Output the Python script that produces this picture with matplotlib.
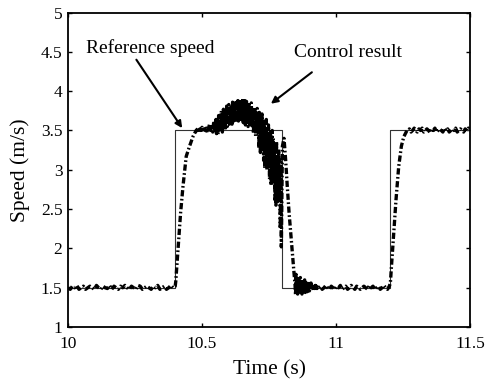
import numpy as np
import matplotlib
matplotlib.use("Agg")
import matplotlib.pyplot as plt

plt.rcParams['font.family'] = ['Liberation Serif', 'DejaVu Serif']
plt.rcParams['lines.scale_dashes'] = False

# Reference speed (step profile)
ref_t = [10.0, 10.4, 10.4, 10.8, 10.8, 11.2, 11.2, 11.5]
ref_v = [1.5, 1.5, 3.5, 3.5, 1.5, 1.5, 3.5, 3.5]

# Control result, read segment by segment
base1_span = (10.0, 10.400)
base1_v = [1.50, 1.48, 1.52, 1.50, 1.53, 1.48, 1.50, 1.52, 1.48, 1.50,
           1.52, 1.50, 1.48, 1.53, 1.50, 1.48, 1.52, 1.50, 1.49, 1.53,
           1.48, 1.52, 1.50, 1.48, 1.52, 1.50, 1.53, 1.50, 1.48, 1.52,
           1.50, 1.48, 1.53, 1.52, 1.48, 1.50, 1.52, 1.50, 1.48, 1.52,
           1.50, 1.53, 1.48, 1.50, 1.52, 1.48, 1.50, 1.53, 1.50, 1.52]

rise1_t = [10.402, 10.406, 10.413, 10.420, 10.429, 10.441, 10.4535, 10.466, 10.478]
rise1_v = [1.58, 1.77, 2.11, 2.45, 2.79, 3.17, 3.30, 3.42, 3.50]

top1_span = (10.480, 10.548)
top1_v = [3.50, 3.53, 3.48, 3.52, 3.50, 3.54, 3.48, 3.52, 3.50, 3.53,
          3.47, 3.52, 3.58, 3.50, 3.55, 3.48, 3.62, 3.52]

noisy_span = (10.550, 10.800)
noisy_v = [3.50, 3.64, 3.46, 3.66, 3.55, 3.45, 3.69, 3.58, 3.48, 3.65,
           3.53, 3.75, 3.58, 3.48, 3.72, 3.77, 3.55, 3.70, 3.50, 3.74,
           3.60, 3.81, 3.55, 3.77, 3.66, 3.83, 3.58, 3.79, 3.62, 3.82,
           3.68, 3.58, 3.86, 3.72, 3.62, 3.87, 3.68, 3.84, 3.60, 3.81,
           3.86, 3.66, 3.88, 3.62, 3.80, 3.89, 3.70, 3.85, 3.64, 3.87,
           3.74, 3.90, 3.60, 3.86, 3.66, 3.88, 3.57, 3.82, 3.87, 3.62,
           3.83, 3.55, 3.79, 3.86, 3.58, 3.81, 3.66, 3.85, 3.54, 3.77,
           3.72, 3.46, 3.79, 3.54, 3.76, 3.43, 3.73, 3.58, 3.78, 3.48,
           3.70, 3.28, 3.73, 3.40, 3.22, 3.66, 3.35, 3.71, 3.25, 3.62,
           3.12, 3.60, 3.02, 3.52, 3.22, 3.64, 3.00, 3.48, 3.15, 3.57,
           3.45, 2.88, 3.36, 3.52, 2.80, 3.25, 3.50, 2.92, 3.40, 2.85,
           3.32, 2.62, 3.15, 2.55, 3.36, 2.78, 3.10, 2.60, 3.26, 2.68,
           3.00, 2.25, 3.10, 2.02, 2.70, 3.30]

fall_t = [10.806, 10.812, 10.818, 10.825, 10.834, 10.840, 10.845]
fall_v = [3.40, 3.13, 2.80, 2.45, 2.07, 1.80, 1.62]

settle_span = (10.847, 10.931)
settle_v = [1.55, 1.41, 1.67, 1.44, 1.62, 1.42, 1.65, 1.47, 1.60, 1.43,
            1.63, 1.46, 1.58, 1.42, 1.61, 1.45, 1.56, 1.48, 1.60, 1.44,
            1.57, 1.47, 1.59, 1.45, 1.55, 1.49, 1.58, 1.46, 1.54, 1.48,
            1.56, 1.47, 1.53, 1.49, 1.55, 1.48, 1.52, 1.49, 1.53, 1.48,
            1.52, 1.49, 1.51]

base2_span = (10.935, 11.199)
base2_v = [1.50, 1.52, 1.48, 1.50, 1.53, 1.50, 1.48, 1.52, 1.50, 1.48,
           1.52, 1.50, 1.53, 1.48, 1.50, 1.52, 1.48, 1.50, 1.53, 1.50,
           1.48, 1.52, 1.50, 1.48, 1.50, 1.52, 1.50, 1.48, 1.53, 1.50,
           1.52, 1.48, 1.50, 1.52, 1.48, 1.50, 1.53, 1.50, 1.48, 1.52]

rise2_t = [11.203, 11.207, 11.2156, 11.224, 11.234, 11.244, 11.253, 11.265]
rise2_v = [1.56, 1.77, 2.19, 2.62, 3.04, 3.30, 3.42, 3.50]

top2_span = (11.268, 11.500)
top2_v = [3.50, 3.52, 3.48, 3.50, 3.53, 3.50, 3.48, 3.52, 3.50, 3.53,
          3.48, 3.50, 3.52, 3.50, 3.47, 3.52, 3.50, 3.53, 3.48, 3.50,
          3.52, 3.50, 3.48, 3.53, 3.50, 3.52, 3.48, 3.50, 3.52, 3.50,
          3.53, 3.48, 3.50, 3.52, 3.50, 3.48, 3.52, 3.50, 3.53, 3.50]

x_ticks = [10, 10.5, 11, 11.5]
x_tick_labels = ["10", "10.5", "11", "11.5"]
y_ticks = [1, 1.5, 2, 2.5, 3, 3.5, 4, 4.5, 5]
y_tick_labels = ["1", "1.5", "2", "2.5", "3", "3.5", "4", "4.5", "5"]


def grid(span, vals):
    return list(np.linspace(span[0], span[1], len(vals)))


ctrl_t = (grid(base1_span, base1_v) + rise1_t + grid(top1_span, top1_v)
          + grid(noisy_span, noisy_v) + fall_t + grid(settle_span, settle_v)
          + grid(base2_span, base2_v) + rise2_t + grid(top2_span, top2_v))
ctrl_v = (base1_v + rise1_v + top1_v + noisy_v + fall_v + settle_v
          + base2_v + rise2_v + top2_v)

fig = plt.figure(figsize=(4.86, 3.79), dpi=100)
ax = fig.add_axes([0.140, 0.137, 0.827, 0.830])

ax.plot(ref_t, ref_v, color='#333333', lw=0.8, zorder=2)
ax.plot(ctrl_t, ctrl_v, color='black', lw=2.4,
        linestyle=(0, (4.5, 1.8, 1.2, 1.8)), zorder=3)

ax.set_xlim(10, 11.5)
ax.set_ylim(1, 5)
ax.set_xticks(x_ticks)
ax.set_xticklabels(x_tick_labels)
ax.set_yticks(y_ticks)
ax.set_yticklabels(y_tick_labels)
ax.tick_params(direction='in', top=True, right=True, length=3, width=1,
               labelsize=12.5)
ax.tick_params(axis='x', pad=6.5)
ax.tick_params(axis='y', pad=4)
for s in ax.spines.values():
    s.set_linewidth(1.3)

ax.set_xlabel("Time (s)", fontsize=15.5, labelpad=6)
ax.set_ylabel("Speed (m/s)", fontsize=15.5, labelpad=8)

ax.text(10.067, 4.55, "Reference speed", fontsize=14, ha='left', va='center')
ax.text(10.844, 4.49, "Control result", fontsize=14, ha='left', va='center')
ax.annotate("", xy=(10.426, 3.53), xytext=(10.255, 4.40),
            arrowprops=dict(arrowstyle='-|>', color='black', lw=1.5,
                            mutation_scale=10, shrinkA=0, shrinkB=0))
ax.annotate("", xy=(10.757, 3.84), xytext=(10.91, 4.24),
            arrowprops=dict(arrowstyle='-|>', color='black', lw=1.5,
                            mutation_scale=10, shrinkA=0, shrinkB=0))

fig.savefig("out.png", dpi=100)
